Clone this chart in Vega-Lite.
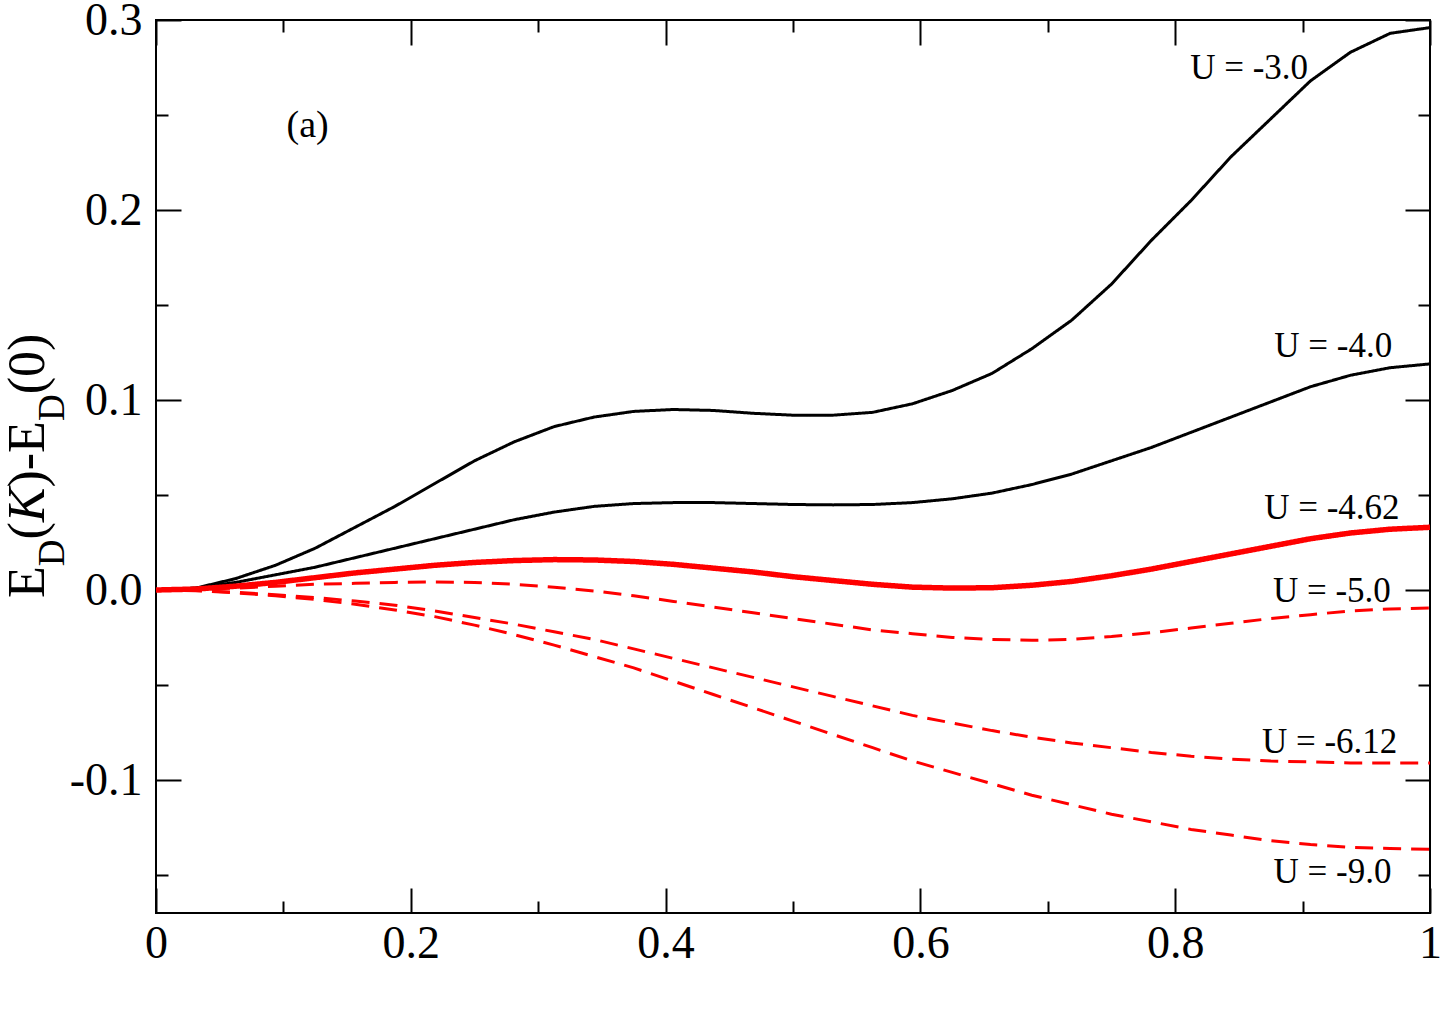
{
  "$schema": "https://vega.github.io/schema/vega-lite/v6.json",
  "width": 1274,
  "height": 893,
  "autosize": {"type": "none"},
  "padding": {"left": 156, "top": 20, "right": 14, "bottom": 98},
  "background": "white",
  "config": {
    "view": {"stroke": "black", "strokeWidth": 2},
    "axis": {
      "domain": false,
      "grid": false,
      "title": null,
      "tickColor": "black",
      "tickWidth": 2,
      "labelFont": "Liberation Serif",
      "labelFontSize": 46,
      "labelColor": "black",
      "labelOverlap": false,
      "labelFlush": false,
      "labelBound": false
    },
    "text": {"font": "Liberation Serif", "color": "black"}
  },
  "datasets": {
    "curves": [
      {"k": 0, "u3": 0, "u4": 0, "u462": 0, "u5": 0, "u612": 0, "u9": 0},
      {"k": 0.03125, "u3": 0.001, "u4": 0.001, "u462": 0.0005, "u5": 0.0003, "u612": -0.0003, "u9": -0.0004},
      {"k": 0.0625, "u3": 0.006, "u4": 0.004, "u462": 0.002, "u5": 0.001, "u612": -0.0012, "u9": -0.0015},
      {"k": 0.09375, "u3": 0.013, "u4": 0.008, "u462": 0.004, "u5": 0.002, "u612": -0.0025, "u9": -0.003},
      {"k": 0.125, "u3": 0.022, "u4": 0.012, "u462": 0.0065, "u5": 0.003, "u612": -0.004, "u9": -0.005},
      {"k": 0.15625, "u3": 0.033, "u4": 0.017, "u462": 0.009, "u5": 0.0035, "u612": -0.0058, "u9": -0.0075},
      {"k": 0.1875, "u3": 0.044, "u4": 0.022, "u462": 0.011, "u5": 0.004, "u612": -0.008, "u9": -0.0105},
      {"k": 0.21875, "u3": 0.056, "u4": 0.027, "u462": 0.013, "u5": 0.0042, "u612": -0.011, "u9": -0.014},
      {"k": 0.25, "u3": 0.068, "u4": 0.032, "u462": 0.0145, "u5": 0.004, "u612": -0.0145, "u9": -0.0185},
      {"k": 0.28125, "u3": 0.078, "u4": 0.037, "u462": 0.0155, "u5": 0.003, "u612": -0.018, "u9": -0.0235},
      {"k": 0.3125, "u3": 0.086, "u4": 0.041, "u462": 0.016, "u5": 0.0015, "u612": -0.022, "u9": -0.029},
      {"k": 0.34375, "u3": 0.091, "u4": 0.044, "u462": 0.0158, "u5": -0.0005, "u612": -0.026, "u9": -0.035},
      {"k": 0.375, "u3": 0.094, "u4": 0.0455, "u462": 0.015, "u5": -0.003, "u612": -0.031, "u9": -0.041},
      {"k": 0.40625, "u3": 0.095, "u4": 0.046, "u462": 0.0135, "u5": -0.006, "u612": -0.036, "u9": -0.048},
      {"k": 0.4375, "u3": 0.0945, "u4": 0.046, "u462": 0.0115, "u5": -0.009, "u612": -0.041, "u9": -0.055},
      {"k": 0.46875, "u3": 0.093, "u4": 0.0455, "u462": 0.0095, "u5": -0.012, "u612": -0.046, "u9": -0.062},
      {"k": 0.5, "u3": 0.092, "u4": 0.045, "u462": 0.007, "u5": -0.015, "u612": -0.051, "u9": -0.069},
      {"k": 0.53125, "u3": 0.092, "u4": 0.0448, "u462": 0.005, "u5": -0.018, "u612": -0.056, "u9": -0.076},
      {"k": 0.5625, "u3": 0.0935, "u4": 0.045, "u462": 0.003, "u5": -0.021, "u612": -0.061, "u9": -0.083},
      {"k": 0.59375, "u3": 0.098, "u4": 0.046, "u462": 0.0015, "u5": -0.023, "u612": -0.066, "u9": -0.09},
      {"k": 0.625, "u3": 0.105, "u4": 0.048, "u462": 0.001, "u5": -0.025, "u612": -0.07, "u9": -0.096},
      {"k": 0.65625, "u3": 0.114, "u4": 0.051, "u462": 0.0012, "u5": -0.026, "u612": -0.074, "u9": -0.102},
      {"k": 0.6875, "u3": 0.127, "u4": 0.0555, "u462": 0.0025, "u5": -0.0265, "u612": -0.0775, "u9": -0.108},
      {"k": 0.71875, "u3": 0.142, "u4": 0.061, "u462": 0.0045, "u5": -0.026, "u612": -0.0805, "u9": -0.113},
      {"k": 0.75, "u3": 0.161, "u4": 0.068, "u462": 0.0075, "u5": -0.0245, "u612": -0.083, "u9": -0.118},
      {"k": 0.78125, "u3": 0.184, "u4": 0.075, "u462": 0.011, "u5": -0.0225, "u612": -0.0855, "u9": -0.122},
      {"k": 0.8125, "u3": 0.205, "u4": 0.083, "u462": 0.015, "u5": -0.02, "u612": -0.0875, "u9": -0.126},
      {"k": 0.84375, "u3": 0.228, "u4": 0.091, "u462": 0.019, "u5": -0.0175, "u612": -0.089, "u9": -0.129},
      {"k": 0.875, "u3": 0.248, "u4": 0.099, "u462": 0.023, "u5": -0.015, "u612": -0.09, "u9": -0.132},
      {"k": 0.90625, "u3": 0.268, "u4": 0.107, "u462": 0.027, "u5": -0.013, "u612": -0.0905, "u9": -0.134},
      {"k": 0.9375, "u3": 0.283, "u4": 0.113, "u462": 0.03, "u5": -0.011, "u612": -0.091, "u9": -0.1355},
      {"k": 0.96875, "u3": 0.293, "u4": 0.117, "u462": 0.032, "u5": -0.01, "u612": -0.091, "u9": -0.136},
      {"k": 1, "u3": 0.296, "u4": 0.119, "u462": 0.033, "u5": -0.0095, "u612": -0.091, "u9": -0.1365}
    ],
    "origin": [{"k": 0, "v": 0}],
    "curveLabels": [
      {"text": "U = -3.0", "k": 0.858, "v": 0.269},
      {"text": "U = -4.0", "k": 0.924, "v": 0.1226},
      {"text": "U = -4.62", "k": 0.923, "v": 0.0374},
      {"text": "U = -5.0", "k": 0.923, "v": -0.0063},
      {"text": "U = -6.12", "k": 0.9212, "v": -0.0858},
      {"text": "U = -9.0", "k": 0.9235, "v": -0.1542}
    ],
    "panelTag": [
      {"text": "(a)", "k": 0.119, "v": 0.2384}
    ],
    "titleMain": [
      {"text": "E", "k": -0.0883, "v": -0.0042},
      {"text": "(", "k": -0.0883, "v": 0.0266},
      {"text": ")-E", "k": -0.0883, "v": 0.0539},
      {"text": "(0)", "k": -0.0883, "v": 0.103}
    ],
    "titleItalic": [
      {"text": "K", "k": -0.0883, "v": 0.0357}
    ],
    "titleSub": [
      {"text": "D", "k": -0.0726, "v": 0.0125},
      {"text": "D", "k": -0.0726, "v": 0.0889}
    ]
  },
  "resolve": {"axis": {"x": "independent", "y": "independent"}},
  "layer": [
    {
      "data": {"name": "curves"},
      "transform": [
        {"fold": ["u3", "u4", "u462", "u5", "u612", "u9"], "as": ["series", "value"]}
      ],
      "mark": {"type": "line", "clip": true},
      "encoding": {
        "x": {
          "field": "k", "type": "quantitative",
          "scale": {"domain": [0, 1], "nice": false, "zero": false},
          "axis": {"orient": "bottom", "values": [0, 0.2, 0.4, 0.6, 0.8, 1], "format": "~g", "tickSize": -25, "labelPadding": 33}
        },
        "y": {
          "field": "value", "type": "quantitative",
          "scale": {"domain": [-0.17, 0.3], "nice": false, "zero": false},
          "axis": {
            "orient": "left",
            "values": [-0.1, 0, 0.1, 0.2, 0.3],
            "labelExpr": "datum.value < 0 ? '-' + format(-datum.value, '.1f') : format(datum.value, '.1f')",
            "tickSize": -25,
            "labelPadding": 39
          }
        },
        "detail": {"field": "series"},
        "color": {
          "field": "series", "type": "nominal", "legend": null,
          "scale": {"type": "ordinal", "domain": ["u3", "u4", "u462", "u5", "u612", "u9"], "range": ["black", "black", "#ff0000", "#ff0000", "#ff0000", "#ff0000"]}
        },
        "strokeWidth": {
          "field": "series", "type": "nominal", "legend": null,
          "scale": {"type": "ordinal", "domain": ["u3", "u4", "u462", "u5", "u612", "u9"], "range": [3, 3, 5.5, 3, 3, 3]}
        },
        "strokeDash": {
          "field": "series", "type": "nominal", "legend": null,
          "scale": {"type": "ordinal", "domain": ["u3", "u4", "u462", "u5", "u612", "u9"], "range": [[1, 0], [1, 0], [1, 0], [18, 10], [18, 10], [18, 10]]}
        }
      }
    },
    {
      "data": {"name": "origin"},
      "mark": {"type": "point", "opacity": 0},
      "encoding": {
        "x": {
          "field": "k", "type": "quantitative",
          "scale": {"domain": [0, 1], "nice": false, "zero": false},
          "axis": {"orient": "bottom", "values": [0.1, 0.3, 0.5, 0.7, 0.9], "labels": false, "tickSize": -12}
        },
        "y": {
          "field": "v", "type": "quantitative",
          "scale": {"domain": [-0.17, 0.3], "nice": false, "zero": false},
          "axis": {"orient": "left", "values": [-0.15, -0.05, 0.05, 0.15, 0.25], "labels": false, "tickSize": -12}
        }
      }
    },
    {
      "data": {"name": "origin"},
      "mark": {"type": "point", "opacity": 0},
      "encoding": {
        "x": {
          "field": "k", "type": "quantitative",
          "scale": {"domain": [0, 1], "nice": false, "zero": false},
          "axis": {"orient": "top", "values": [0, 0.2, 0.4, 0.6, 0.8, 1], "labels": false, "tickSize": -25}
        },
        "y": {
          "field": "v", "type": "quantitative",
          "scale": {"domain": [-0.17, 0.3], "nice": false, "zero": false},
          "axis": {"orient": "right", "values": [-0.1, 0, 0.1, 0.2, 0.3], "labels": false, "tickSize": -25}
        }
      }
    },
    {
      "data": {"name": "origin"},
      "mark": {"type": "point", "opacity": 0},
      "encoding": {
        "x": {
          "field": "k", "type": "quantitative",
          "scale": {"domain": [0, 1], "nice": false, "zero": false},
          "axis": {"orient": "top", "values": [0.1, 0.3, 0.5, 0.7, 0.9], "labels": false, "tickSize": -12}
        },
        "y": {
          "field": "v", "type": "quantitative",
          "scale": {"domain": [-0.17, 0.3], "nice": false, "zero": false},
          "axis": {"orient": "right", "values": [-0.15, -0.05, 0.05, 0.15, 0.25], "labels": false, "tickSize": -12}
        }
      }
    },
    {
      "data": {"name": "curveLabels"},
      "mark": {"type": "text", "fontSize": 35, "align": "center", "baseline": "alphabetic"},
      "encoding": {
        "x": {"field": "k", "type": "quantitative", "scale": {"domain": [0, 1], "nice": false, "zero": false}, "axis": null},
        "y": {"field": "v", "type": "quantitative", "scale": {"domain": [-0.17, 0.3], "nice": false, "zero": false}, "axis": null},
        "text": {"field": "text"}
      }
    },
    {
      "data": {"name": "panelTag"},
      "mark": {"type": "text", "fontSize": 38, "align": "center", "baseline": "alphabetic"},
      "encoding": {
        "x": {"field": "k", "type": "quantitative", "scale": {"domain": [0, 1], "nice": false, "zero": false}, "axis": null},
        "y": {"field": "v", "type": "quantitative", "scale": {"domain": [-0.17, 0.3], "nice": false, "zero": false}, "axis": null},
        "text": {"field": "text"}
      }
    },
    {
      "data": {"name": "titleMain"},
      "mark": {"type": "text", "fontSize": 52, "angle": 270, "align": "left", "baseline": "alphabetic"},
      "encoding": {
        "x": {"field": "k", "type": "quantitative", "scale": {"domain": [0, 1], "nice": false, "zero": false}, "axis": null},
        "y": {"field": "v", "type": "quantitative", "scale": {"domain": [-0.17, 0.3], "nice": false, "zero": false}, "axis": null},
        "text": {"field": "text"}
      }
    },
    {
      "data": {"name": "titleItalic"},
      "mark": {"type": "text", "fontSize": 52, "fontStyle": "italic", "angle": 270, "align": "left", "baseline": "alphabetic"},
      "encoding": {
        "x": {"field": "k", "type": "quantitative", "scale": {"domain": [0, 1], "nice": false, "zero": false}, "axis": null},
        "y": {"field": "v", "type": "quantitative", "scale": {"domain": [-0.17, 0.3], "nice": false, "zero": false}, "axis": null},
        "text": {"field": "text"}
      }
    },
    {
      "data": {"name": "titleSub"},
      "mark": {"type": "text", "fontSize": 37, "angle": 270, "align": "left", "baseline": "alphabetic"},
      "encoding": {
        "x": {"field": "k", "type": "quantitative", "scale": {"domain": [0, 1], "nice": false, "zero": false}, "axis": null},
        "y": {"field": "v", "type": "quantitative", "scale": {"domain": [-0.17, 0.3], "nice": false, "zero": false}, "axis": null},
        "text": {"field": "text"}
      }
    }
  ]
}
